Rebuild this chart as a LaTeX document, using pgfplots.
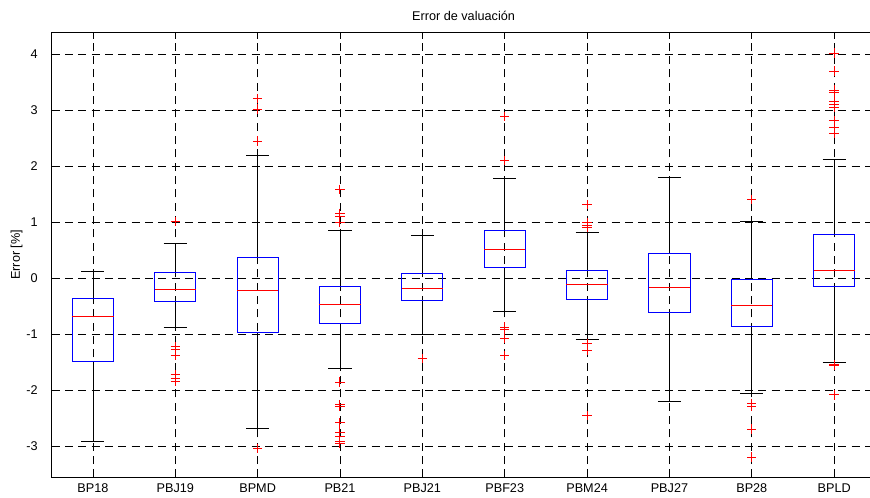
\documentclass[border=0pt]{standalone}
\usepackage{pgfplots}
\pgfplotsset{compat=1.18}
\usepgfplotslibrary{statistics}
\usetikzlibrary{calc}
\usepackage{fontspec}
\setmainfont{Liberation Sans}

\begin{document}
\begin{tikzpicture}
\begin{axis}[
    name=ax,
    scale only axis,
    width=617.7pt, height=333.75pt,
    xmin=0.5, xmax=10.5,
    ymin=-3.55, ymax=4.39,
    font=\fontsize{9.5}{11}\selectfont,
    title={Error de valuación},
    title style={yshift=-1pt},
    ylabel={Error [\%]},
    ylabel style={yshift=-4pt},
    xtick={1,...,10},
    xticklabels={BP18,PBJ19,BPMD,PB21,PBJ21,PBF23,PBM24,PBJ27,BP28,BPLD},
    ytick={-3,-2,-1,0,1,2,3,4},
    yticklabels={-3,-2,-1,0,1,2,3,4},
    yticklabel style={xshift=-7pt},
    xticklabel style={yshift=-1pt},
    tick align=inside,
    major tick length=5pt,
    grid=major,
    major grid style={black, line width=0.5pt, dash pattern=on 6pt off 4pt},
    axis line style={line width=0.7pt},
    every tick/.style={black, line width=0.5pt},
    boxplot/draw direction=y,
    boxplot/box extend=0.5,
    boxplot/whisker extend=0.28,
    boxplot/every box/.style={draw=blue, line width=0.7pt},
    boxplot/every median/.style={red, line width=0.7pt},
    boxplot/every whisker/.style={black, line width=0.6pt},
    bx/.style={black, mark=+, mark size=3.5pt, mark options={draw=red, solid, line width=0.75pt}},
]
% BP18
\addplot[bx, boxplot prepared={draw position=1, lower whisker=-2.91, lower quartile=-1.48,
    median=-0.68, upper quartile=-0.35, upper whisker=0.12}] coordinates {};
% PBJ19
\addplot[bx, boxplot prepared={draw position=2, lower whisker=-0.88, lower quartile=-0.41,
    median=-0.19, upper quartile=0.11, upper whisker=0.63}]
    table[row sep=\\, y index=0] {y\\ 1.01\\ -1.22\\ -1.27\\ -1.38\\ -1.72\\ -1.78\\ -1.84\\};
% BPMD
\addplot[bx, boxplot prepared={draw position=3, lower whisker=-2.67, lower quartile=-0.96,
    median=-0.22, upper quartile=0.37, upper whisker=2.20}]
    table[row sep=\\, y index=0] {y\\ 3.21\\ 3.02\\ 2.45\\ -3.03\\};
% PB21
\addplot[bx, boxplot prepared={draw position=4, lower whisker=-1.61, lower quartile=-0.80,
    median=-0.47, upper quartile=-0.14, upper whisker=0.85}]
    table[row sep=\\, y index=0] {y\\ 1.59\\ 1.16\\ 1.10\\ 1.00\\ -1.85\\ -2.25\\ -2.28\\ -2.58\\ -2.75\\ -2.83\\ -2.91\\ -2.94\\};
% PBJ21
\addplot[bx, boxplot prepared={draw position=5, lower whisker=-1.00, lower quartile=-0.39,
    median=-0.18, upper quartile=0.09, upper whisker=0.76}]
    table[row sep=\\, y index=0] {y\\ -1.43\\};
% PBF23
\addplot[bx, boxplot prepared={draw position=6, lower whisker=-0.59, lower quartile=0.20,
    median=0.51, upper quartile=0.86, upper whisker=1.79}]
    table[row sep=\\, y index=0] {y\\ 2.89\\ 2.10\\ -0.87\\ -0.91\\ -1.07\\ -1.38\\};
% PBM24
\addplot[bx, boxplot prepared={draw position=7, lower whisker=-1.08, lower quartile=-0.37,
    median=-0.11, upper quartile=0.14, upper whisker=0.82}]
    table[row sep=\\, y index=0] {y\\ 1.32\\ 0.99\\ 0.95\\ 0.91\\ -1.16\\ -1.29\\ -2.45\\};
% PBJ27
\addplot[bx, boxplot prepared={draw position=8, lower whisker=-2.20, lower quartile=-0.60,
    median=-0.16, upper quartile=0.45, upper whisker=1.80}] coordinates {};
% BP28
\addplot[bx, boxplot prepared={draw position=9, lower whisker=-2.06, lower quartile=-0.85,
    median=-0.49, upper quartile=-0.02, upper whisker=1.02}]
    table[row sep=\\, y index=0] {y\\ 1.41\\ -2.23\\ -2.29\\ -2.69\\ -3.19\\};
% BPLD
\addplot[bx, boxplot prepared={draw position=10, lower whisker=-1.50, lower quartile=-0.14,
    median=0.14, upper quartile=0.79, upper whisker=2.12}]
    table[row sep=\\, y index=0] {y\\ 4.02\\ 3.70\\ 3.36\\ 3.31\\ 3.15\\ 3.10\\ 3.05\\ 2.81\\ 2.70\\ 2.59\\ -1.54\\ -1.56\\ -2.08\\};
\end{axis}
\pgfresetboundingbox
\useasboundingbox ($(ax.south west)+(-38.8pt,-14.8pt)$) rectangle ($(ax.south west)+(613.7pt,358pt)$);
\end{tikzpicture}
\end{document}
